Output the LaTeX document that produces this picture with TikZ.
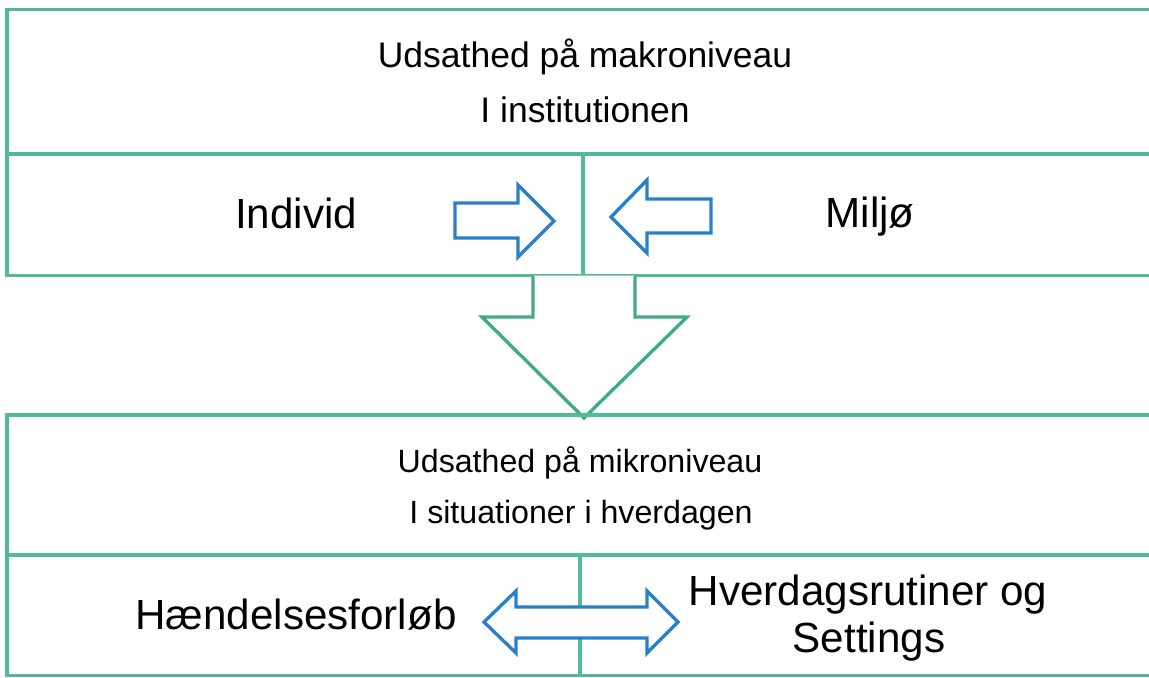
\documentclass[tikz,border=0pt]{standalone}
\usepackage{fontspec}
\setmainfont{Liberation Sans}
\definecolor{boxgreen}{RGB}{82,186,152}
\definecolor{arrowgreen}{RGB}{64,170,132}
\definecolor{arrowblue}{RGB}{42,128,200}
\begin{document}
\begin{tikzpicture}[x=0.02cm, y=-0.02cm,
    boxline/.style={boxgreen, line width=1.9pt},
    blockarrow/.style={arrowblue, line width=1.9pt, fill=white},
    downarrow/.style={arrowgreen, line width=1.9pt, fill=white},
    headtext/.style={anchor=base, font=\fontsize{20.2}{24}\selectfont},
    subtext/.style={anchor=base, font=\fontsize{18.3}{22}\selectfont},
    bigtext/.style={anchor=base, font=\fontsize{24}{28}\selectfont}]
  \useasboundingbox (0,0) rectangle (1149,677);

  % upper level
  \draw[boxline] (1150,9.5) -- (7,9.5) -- (7,275.5) -- (1150,275.5);
  \draw[boxline] (7,154) -- (1150,154);
  \draw[boxline] (583,154) -- (583,275.5);
  \node[headtext] (makro) at (585,67) {Udsathed på makroniveau};
  \node[headtext] (institution) at (585,122) {I institutionen};
  \node[bigtext] (individ) at (296,228) {Individ};
  \node[bigtext] (miljo) at (870,227) {Miljø};
  \draw[blockarrow] (455,203) -- (518,203) -- (518,185) -- (554,221)
    -- (518,257) -- (518,238) -- (455,238) -- cycle;
  \draw[blockarrow] (711,199) -- (647,199) -- (647,180) -- (611,217)
    -- (647,253) -- (647,233) -- (711,233) -- cycle;

  % from macro to micro
  \draw[downarrow] (533,275.5) -- (533,317) -- (482,317) -- (584,418)
    -- (687,317) -- (635,317) -- (635,275.5);

  % lower level
  \draw[boxline] (1150,415) -- (7,415) -- (7,675.5) -- (1150,675.5);
  \draw[boxline] (7,555) -- (1150,555);
  \draw[boxline] (580,555) -- (580,675.5);
  \node[subtext] (mikro) at (580,472.5) {Udsathed på mikroniveau};
  \node[subtext] (situation) at (581,523) {I situationer i hverdagen};
  \node[bigtext] (forloeb) at (296,629) {Hændelsesforløb};
  \node[bigtext] (rutiner) at (868,605) {Hverdagsrutiner og};
  \node[bigtext] (settings) at (869,652) {Settings};
  \draw[blockarrow] (484,622) -- (516,591) -- (516,607) -- (647,607)
    -- (647,591) -- (678,622) -- (647,653) -- (647,638) -- (516,638)
    -- (516,653) -- cycle;
\end{tikzpicture}
\end{document}
